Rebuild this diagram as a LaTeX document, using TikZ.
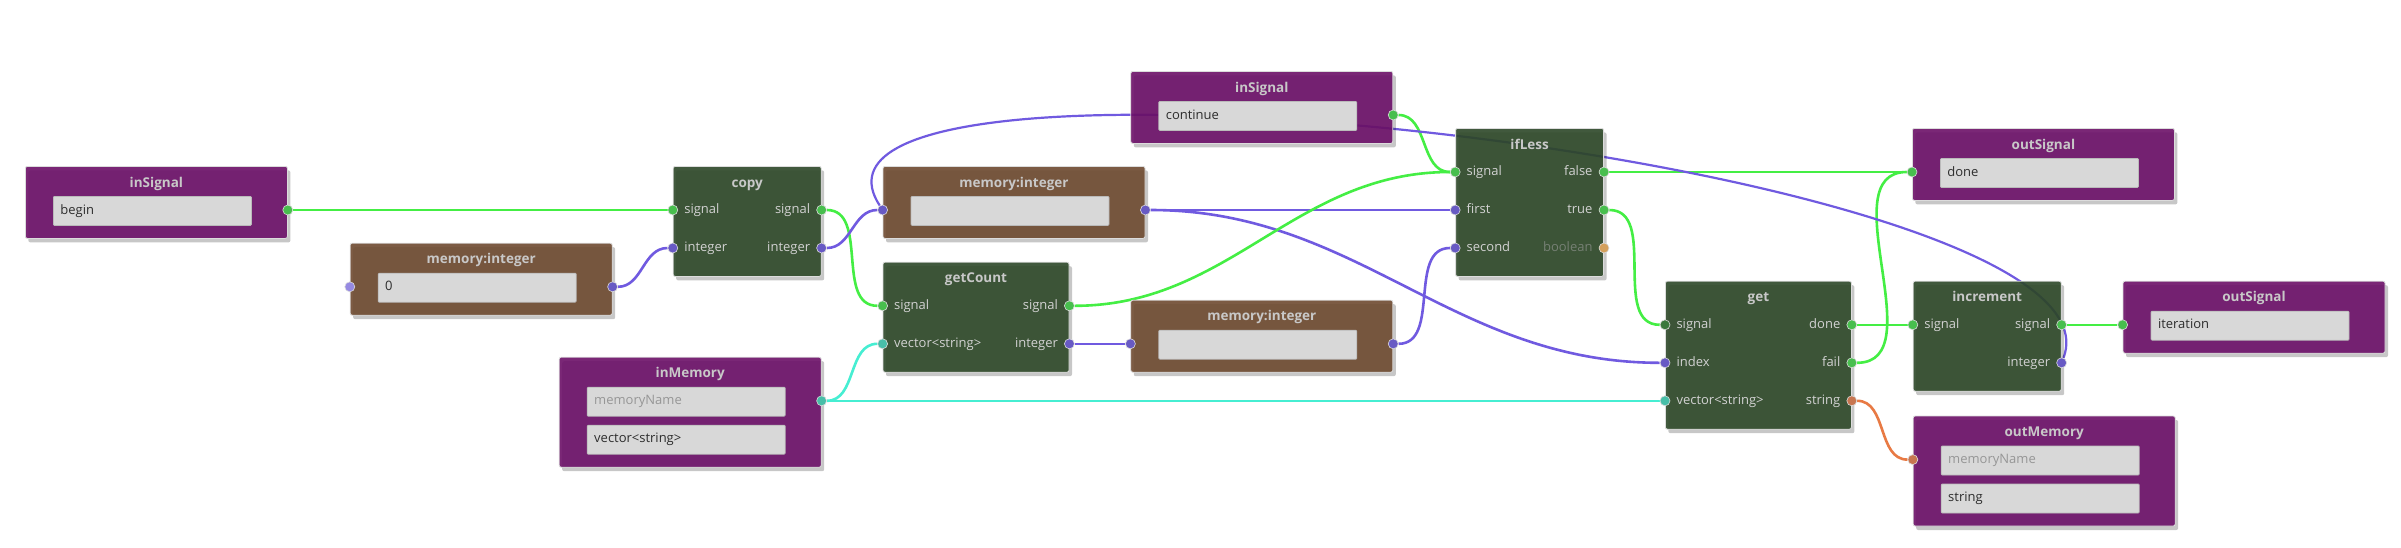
\documentclass[tikz,border=0pt]{standalone}
\usepackage{fontspec}
\setmainfont{Open Sans}
\usetikzlibrary{positioning, shadows, backgrounds}
\definecolor{sigpurple}{RGB}{108,16,104}
\definecolor{membrown}{RGB}{110,74,48}
\definecolor{funcgreen}{RGB}{45,72,40}
\definecolor{fieldgrey}{RGB}{216,216,216}
\definecolor{fieldrim}{RGB}{186,186,186}
\definecolor{fieldtext}{RGB}{45,45,45}
\definecolor{hinttext}{RGB}{150,150,150}
\definecolor{titlegrey}{RGB}{200,200,200}
\definecolor{labelgrey}{RGB}{210,210,210}
\definecolor{mutedgrey}{RGB}{118,128,116}
\definecolor{blockrim}{RGB}{220,220,220}
\definecolor{wiregreen}{RGB}{68,238,68}
\definecolor{wirepurple}{RGB}{112,90,224}
\definecolor{wirecyan}{RGB}{70,238,210}
\definecolor{wireorange}{RGB}{232,122,68}
\definecolor{portgreen}{RGB}{72,190,78}
\definecolor{portdark}{RGB}{58,120,60}
\definecolor{portpurple}{RGB}{104,90,196}
\definecolor{portlilac}{RGB}{150,138,226}
\definecolor{portcyan}{RGB}{72,190,168}
\definecolor{portorange}{RGB}{200,118,80}
\definecolor{porttan}{RGB}{212,160,92}
\newcommand{\titlefont}{\fontsize{13.5}{16}\selectfont\bfseries}
\newcommand{\plainfont}{\fontsize{13}{15}\selectfont}

\begin{document}
\begin{tikzpicture}[x=1pt, y=-1pt,
    block/.style={rectangle, draw=blockrim, line width=0.8pt, rounded corners=2pt,
      fill opacity=0.9, anchor=north west, inner sep=0pt,
      drop shadow={shadow xshift=3pt, shadow yshift=-4pt, opacity=0.22, fill=black}},
    sigbox/.style={block, fill=sigpurple, minimum width=262pt},
    membox/.style={block, fill=membrown, minimum width=262pt, minimum height=72pt},
    funcbox/.style={block, fill=funcgreen},
    title/.style={font=\titlefont, text=titlegrey, anchor=base, inner sep=0pt},
    field/.style={rectangle, draw=fieldrim, fill=fieldgrey, line width=0.8pt, rounded corners=1pt,
      minimum height=29pt, text width=184pt, inner xsep=7pt, inner ysep=0pt, align=left,
      font=\plainfont, text=fieldtext, text height=9.5pt, text depth=3pt},
    hint/.style={text=hinttext},
    port/.style={circle, draw=blockrim, line width=0.6pt, minimum size=10pt, inner sep=0pt},
    plabel/.style={font=\plainfont, text=labelgrey, inner sep=0pt, text height=9.5pt, text depth=3pt},
    inlabel/.style={plabel, xshift=6pt},
    outlabel/.style={plabel, xshift=-6pt},
    wire/.style={line width=2.6pt, out=0, in=180}]

\useasboundingbox (0,0) rectangle (2401,547);

% inSignal: begin
\node[sigbox, minimum height=72pt] (begin) at (25,166) {};
\node[title] at ([yshift=-21pt]begin.north) {inSignal};
\node[field, below right=30pt and 28pt of begin.north west] (begin-f) {begin};
\node[port, fill=portgreen] (begin-o) at ([yshift=-44pt]begin.north east) {};

% memory: start value
\node[membox, below right=4pt and 62pt of begin.south east] (zero) {};
\node[title] at ([yshift=-21pt]zero.north) {memory:integer};
\node[field, below right=30pt and 28pt of zero.north west] (zero-f) {0};
\node[port, fill=portlilac] (zero-i) at ([yshift=-44pt]zero.north west) {};
\node[port, fill=portpurple] (zero-o) at ([yshift=-44pt]zero.north east) {};

% copy
\node[funcbox, minimum width=148pt, minimum height=110pt, below right=0pt and 385pt of begin.north east] (copy) {};
\node[title] at ([yshift=-21pt]copy.north) {copy};
\node[port, fill=portgreen, label={[inlabel]right:signal}] (copy-i1) at ([yshift=-44pt]copy.north west) {};
\node[port, fill=portpurple, label={[inlabel]right:integer}] (copy-i2) at ([yshift=-82pt]copy.north west) {};
\node[port, fill=portgreen, label={[outlabel]left:signal}] (copy-o1) at ([yshift=-44pt]copy.north east) {};
\node[port, fill=portpurple, label={[outlabel]left:integer}] (copy-o2) at ([yshift=-82pt]copy.north east) {};

% memory: index
\node[membox, below right=0pt and 61pt of copy.north east] (index) {};
\node[title] at ([yshift=-21pt]index.north) {memory:integer};
\node[field, below right=30pt and 28pt of index.north west] (index-f) {};
\node[port, fill=portpurple] (index-i) at ([yshift=-44pt]index.north west) {};
\node[port, fill=portpurple] (index-o) at ([yshift=-44pt]index.north east) {};

% getCount
\node[funcbox, minimum width=186pt, minimum height=110pt, below right=23pt and 0pt of index.south west] (getcount) {};
\node[title] at ([yshift=-21pt]getcount.north) {getCount};
\node[port, fill=portgreen, label={[inlabel]right:signal}] (getcount-i1) at ([yshift=-44pt]getcount.north west) {};
\node[port, fill=portcyan, label={[inlabel]right:vector<string>}] (getcount-i2) at ([yshift=-82pt]getcount.north west) {};
\node[port, fill=portgreen, label={[outlabel]left:signal}] (getcount-o1) at ([yshift=-44pt]getcount.north east) {};
\node[port, fill=portpurple, label={[outlabel]left:integer}] (getcount-o2) at ([yshift=-82pt]getcount.north east) {};

% memory: total
\node[membox, below right=38pt and 61pt of getcount.north east] (total) {};
\node[title] at ([yshift=-21pt]total.north) {memory:integer};
\node[field, below right=30pt and 28pt of total.north west] (total-f) {};
\node[port, fill=portpurple] (total-i) at ([yshift=-44pt]total.north west) {};
\node[port, fill=portpurple] (total-o) at ([yshift=-44pt]total.north east) {};

% inSignal: continue
\node[sigbox, minimum height=72pt, above=156pt of total.north west, anchor=south west] (cont) {};
\node[title] at ([yshift=-21pt]cont.north) {inSignal};
\node[field, below right=30pt and 28pt of cont.north west] (cont-f) {continue};
\node[port, fill=portgreen] (cont-o) at ([yshift=-44pt]cont.north east) {};

% ifLess
\node[funcbox, minimum width=148pt, minimum height=148pt, below right=57pt and 62pt of cont.north east] (ifless) {};
\node[title] at ([yshift=-21pt]ifless.north) {ifLess};
\node[port, fill=portgreen, label={[inlabel]right:signal}] (ifless-i1) at ([yshift=-44pt]ifless.north west) {};
\node[port, fill=portpurple, label={[inlabel]right:first}] (ifless-i2) at ([yshift=-82pt]ifless.north west) {};
\node[port, fill=portpurple, label={[inlabel]right:second}] (ifless-i3) at ([yshift=-120pt]ifless.north west) {};
\node[port, fill=portgreen, label={[outlabel]left:false}] (ifless-o1) at ([yshift=-44pt]ifless.north east) {};
\node[port, fill=portgreen, label={[outlabel]left:true}] (ifless-o2) at ([yshift=-82pt]ifless.north east) {};
\node[port, fill=porttan, label={[outlabel, text=mutedgrey]left:boolean}] (ifless-o3) at ([yshift=-120pt]ifless.north east) {};

% outSignal: done
\node[sigbox, minimum height=72pt, below right=0pt and 308pt of ifless.north east] (done) {};
\node[title] at ([yshift=-21pt]done.north) {outSignal};
\node[field, below right=30pt and 28pt of done.north west] (done-f) {done};
\node[port, fill=portgreen] (done-i) at ([yshift=-44pt]done.north west) {};

% get
\node[funcbox, minimum width=186pt, minimum height=148pt, below right=4pt and 61pt of ifless.south east] (get) {};
\node[title] at ([yshift=-21pt]get.north) {get};
\node[port, fill=portdark, label={[inlabel]right:signal}] (get-i1) at ([yshift=-44pt]get.north west) {};
\node[port, fill=portpurple, label={[inlabel]right:index}] (get-i2) at ([yshift=-82pt]get.north west) {};
\node[port, fill=portcyan, label={[inlabel]right:vector<string>}] (get-i3) at ([yshift=-120pt]get.north west) {};
\node[port, fill=portgreen, label={[outlabel]left:done}] (get-o1) at ([yshift=-44pt]get.north east) {};
\node[port, fill=portgreen, label={[outlabel]left:fail}] (get-o2) at ([yshift=-82pt]get.north east) {};
\node[port, fill=portorange, label={[outlabel]left:string}] (get-o3) at ([yshift=-120pt]get.north east) {};

% increment
\node[funcbox, minimum width=148pt, minimum height=110pt, below right=0pt and 61pt of get.north east] (incr) {};
\node[title] at ([yshift=-21pt]incr.north) {increment};
\node[port, fill=portgreen, label={[inlabel]right:signal}] (incr-i1) at ([yshift=-44pt]incr.north west) {};
\node[port, fill=portgreen, label={[outlabel]left:signal}] (incr-o1) at ([yshift=-44pt]incr.north east) {};
\node[port, fill=portpurple, label={[outlabel]left:integer}] (incr-o2) at ([yshift=-82pt]incr.north east) {};

% outSignal: iteration
\node[sigbox, minimum height=72pt, below right=0pt and 61pt of incr.north east] (iter) {};
\node[title] at ([yshift=-21pt]iter.north) {outSignal};
\node[field, below right=30pt and 28pt of iter.north west] (iter-f) {iteration};
\node[port, fill=portgreen] (iter-i) at ([yshift=-44pt]iter.north west) {};

% outMemory
\node[sigbox, minimum height=110pt, below=24pt of incr.south west, anchor=north west] (outmem) {};
\node[title] at ([yshift=-21pt]outmem.north) {outMemory};
\node[field, hint, below right=30pt and 28pt of outmem.north west] (outmem-f1) {memoryName};
\node[field, below right=68pt and 28pt of outmem.north west] (outmem-f2) {string};
\node[port, fill=portorange] (outmem-i) at ([yshift=-44pt]outmem.north west) {};

% inMemory
\node[sigbox, minimum height=110pt, below=80pt of copy.south east, anchor=north east] (inmem) {};
\node[title] at ([yshift=-21pt]inmem.north) {inMemory};
\node[field, hint, below right=30pt and 28pt of inmem.north west] (inmem-f1) {memoryName};
\node[field, below right=68pt and 28pt of inmem.north west] (inmem-f2) {vector<string>};
\node[port, fill=portcyan] (inmem-o) at ([yshift=-44pt]inmem.north east) {};

% Connections
\begin{scope}[on background layer]
\fill[white] (0,0) rectangle (2401,547);
\draw[wire, wiregreen] (begin-o) to (copy-i1);
\draw[wire, wirepurple] (zero-o) to (copy-i2);
\draw[wire, wiregreen] (copy-o1) to (getcount-i1);
\draw[wire, wirepurple] (copy-o2) to (index-i);
\draw[wire, wirepurple] (index-o) to (ifless-i2);
\draw[wire, wirepurple] (index-o) to (get-i2);
\draw[wire, wiregreen] (cont-o) to (ifless-i1);
\draw[wire, wiregreen] (getcount-o1) to (ifless-i1);
\draw[wire, wirepurple] (getcount-o2) to (total-i);
\draw[wire, wirepurple] (total-o) to (ifless-i3);
\draw[wire, wirecyan] (inmem-o) to (getcount-i2);
\draw[wire, wirecyan] (inmem-o) to (get-i3);
\draw[wire, wiregreen] (ifless-o1) to (done-i);
\draw[wire, wiregreen] (ifless-o2) to (get-i1);
\draw[wire, wiregreen] (get-o1) to (incr-i1);
\draw[wire, wiregreen] (get-o2) to (done-i);
\draw[wire, wireorange] (get-o3) to (outmem-i);
\draw[wire, wiregreen] (incr-o1) to (iter-i);
\draw[wirepurple, line width=2.2pt] (incr-o2) .. controls +(76,-200) and +(-130,-200) .. (index-i);
\end{scope}

\end{tikzpicture}
\end{document}
